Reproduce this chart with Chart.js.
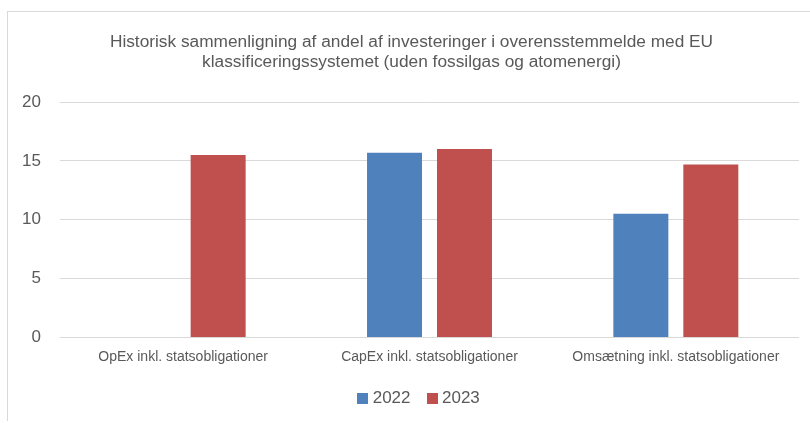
<!DOCTYPE html>
<html lang="da">
<head>
<meta charset="utf-8">
<title>Historisk sammenligning</title>
<script src="https://cdn.jsdelivr.net/npm/chart.js@4"></script>
<style>
    html, body { margin: 0; padding: 0; background: #fff; }
    #ramme {
        position: absolute;
        left: 7px;
        top: 11px;
        width: 810px;
        height: 409px;
        border-left: 1px solid #d9d9d9;
        border-top: 1px solid #d9d9d9;
    }
    #grafik { position: absolute; left: 0; top: 0; }
</style>
</head>
<body>
<div id="ramme"></div>
<canvas id="grafik" width="810" height="423"></canvas>
<script>
const kategorier = [
    'OpEx inkl. statsobligationer',
    'CapEx inkl. statsobligationer',
    'Omsætning inkl. statsobligationer'
];
const aar = ['2022', '2023'];
const vaerdier2022 = [0, 15.7, 10.5];
const vaerdier2023 = [15.5, 16.0, 14.7];
const yTicks = [0, 5, 10, 15, 20];

const farver = ['#4f81bd', '#c0504d'];
const tekstFarve = '#595959';
const skrift = '"Liberation Sans", Arial, sans-serif';

// små firkanter til legenden, så teksten kommer tættere på kassen
function lavKasse(farve){
    const c = document.createElement('canvas');
    c.width = 11;
    c.height = 11;
    const ctx = c.getContext('2d');
    ctx.fillStyle = farve;
    ctx.fillRect(0, 0, 11, 11);
    return c;
}
const kasser = farver.map(lavKasse);

// titel og legende står lidt til højre for midten
const flytBokse = {
    id: 'flytBokse',
    afterLayout(chart){
        chart.legend.left += 21;
        chart.legend.right += 21;
        chart.titleBlock.left += 12;
        chart.titleBlock.right += 12;
    }
};

new Chart(document.getElementById('grafik'), {
    type: 'bar',
    data: {
        labels: kategorier,
        datasets: [{
            label: aar[0],
            data: vaerdier2022,
            backgroundColor: farver[0],
            categoryPercentage: 0.568,
            barPercentage: 0.786
        }, {
            label: aar[1],
            data: vaerdier2023,
            backgroundColor: farver[1],
            categoryPercentage: 0.568,
            barPercentage: 0.786
        }]
    },
    plugins: [flytBokse],
    options: {
        responsive: false,
        animation: false,
        layout: {
            padding: { left: 0, right: 11, top: 0, bottom: 6.5 }
        },
        plugins: {
            title: {
                display: true,
                text: [
                    'Historisk sammenligning af andel af investeringer i overensstemmelde med EU',
                    'klassificeringssystemet (uden fossilgas og atomenergi)'
                ],
                color: tekstFarve,
                font: { family: skrift, size: 17.3, weight: 'normal', lineHeight: '20px' },
                padding: { top: 32, bottom: 30 }
            },
            legend: {
                position: 'bottom',
                labels: {
                    color: tekstFarve,
                    font: { family: skrift, size: 17 },
                    usePointStyle: true,
                    pointStyleWidth: 3,
                    boxHeight: 11,
                    padding: 20,
                    generateLabels: function(chart){
                        const items = Chart.defaults.plugins.legend.labels.generateLabels(chart);
                        items.forEach((item, i) => { item.pointStyle = kasser[i]; });
                        return items;
                    }
                }
            },
            tooltip: { enabled: false }
        },
        scales: {
            x: {
                grid: { display: false, drawTicks: false },
                border: { display: false },
                ticks: {
                    color: tekstFarve,
                    font: { family: skrift, size: 14 },
                    padding: 11.5,
                    maxRotation: 0
                },
                afterFit: function(scale){
                    scale.height = 32;
                }
            },
            y: {
                min: 0,
                max: 20,
                afterBuildTicks: function(scale){
                    scale.ticks = yTicks.map(v => ({ value: v }));
                },
                grid: { color: '#d9d9d9', drawTicks: false },
                border: { display: false },
                ticks: {
                    color: tekstFarve,
                    font: { family: skrift, size: 17 },
                    padding: 19
                },
                afterFit: function(scale){
                    scale.width = 60;
                }
            }
        }
    }
});
</script>
</body>
</html>
